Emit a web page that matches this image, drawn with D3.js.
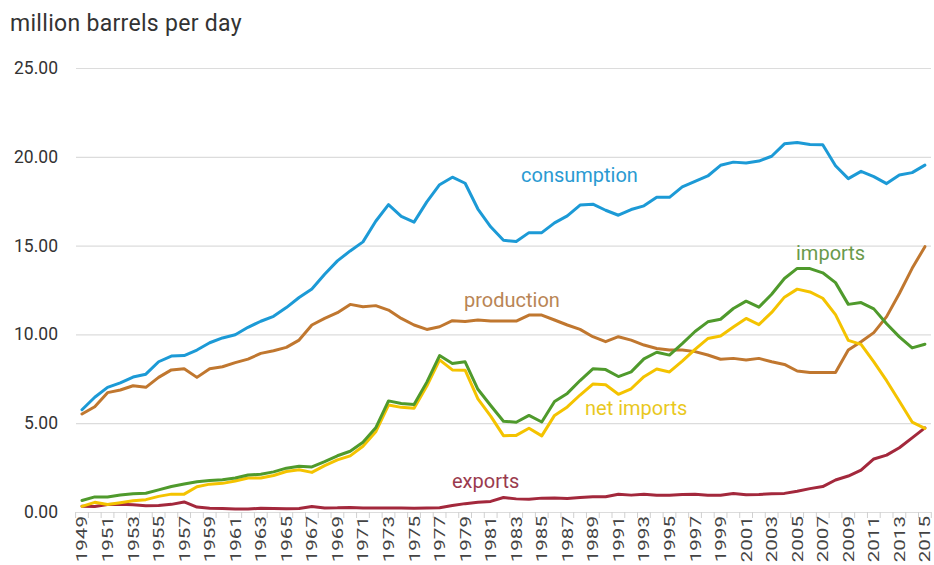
<!DOCTYPE html>
<html>
<head>
<meta charset="utf-8">
<script src="https://cdn.jsdelivr.net/npm/d3@7"></script>
<style>
  html, body { margin: 0; padding: 0; background: #fff; }
  svg { display: block; }
  text { font-family: Roboto, "Open Sans", Arial, sans-serif; }
</style>
</head>
<body>
<svg id="chart" width="934" height="565"></svg>
<script>
const years = d3.range(1949, 2016);

const consumption = [5.76,6.46,7.02,7.27,7.60,7.76,8.46,8.78,8.81,9.12,9.53,9.80,9.98,10.40,10.74,11.02,11.51,12.08,12.56,13.39,14.14,14.70,15.21,16.37,17.31,16.65,16.32,17.46,18.43,18.85,18.51,17.06,16.06,15.30,15.23,15.73,15.73,16.28,16.67,17.28,17.33,16.99,16.71,17.03,17.24,17.72,17.72,18.31,18.62,18.92,19.52,19.70,19.65,19.76,20.03,20.73,20.80,20.69,20.68,19.50,18.77,19.18,18.88,18.49,18.97,19.11,19.53];

const production = [5.52,5.93,6.72,6.87,7.11,7.02,7.58,8.00,8.07,7.58,8.07,8.18,8.41,8.61,8.93,9.08,9.27,9.68,10.53,10.90,11.22,11.69,11.56,11.62,11.37,10.90,10.53,10.28,10.43,10.77,10.72,10.81,10.75,10.75,10.75,11.09,11.09,10.81,10.53,10.28,9.87,9.59,9.87,9.68,9.40,9.21,9.12,9.12,9.03,8.84,8.60,8.65,8.56,8.65,8.46,8.31,7.94,7.86,7.86,7.86,9.12,9.59,10.10,11.00,12.30,13.72,14.94];

const imports = [0.645,0.850,0.844,0.952,1.034,1.052,1.248,1.436,1.574,1.700,1.780,1.815,1.917,2.082,2.123,2.259,2.468,2.573,2.537,2.840,3.166,3.419,3.926,4.741,6.256,6.112,6.056,7.313,8.807,8.363,8.456,6.909,5.996,5.113,5.051,5.437,5.067,6.224,6.678,7.402,8.061,8.018,7.627,7.888,8.620,8.996,8.835,9.478,10.162,10.708,10.852,11.459,11.871,11.530,12.264,13.145,13.714,13.707,13.468,12.915,11.691,11.793,11.436,10.598,9.859,9.241,9.449];

const exportsData = [0.327,0.305,0.422,0.432,0.402,0.356,0.368,0.430,0.568,0.276,0.211,0.202,0.174,0.168,0.208,0.202,0.187,0.198,0.307,0.231,0.233,0.259,0.224,0.222,0.231,0.221,0.209,0.223,0.243,0.362,0.471,0.544,0.595,0.815,0.739,0.722,0.781,0.785,0.764,0.815,0.859,0.857,1.001,0.950,1.003,0.942,0.949,0.981,1.003,0.945,0.940,1.040,0.971,0.984,1.027,1.048,1.165,1.317,1.433,1.802,2.024,2.353,2.986,3.205,3.621,4.176,4.738];

const netImports = [0.318,0.545,0.422,0.520,0.632,0.696,0.880,1.006,1.006,1.424,1.569,1.613,1.743,1.914,1.915,2.057,2.281,2.375,2.230,2.609,2.933,3.161,3.701,4.519,6.025,5.892,5.846,7.090,8.565,8.002,7.985,6.365,5.401,4.298,4.312,4.715,4.286,5.439,5.914,6.587,7.202,7.161,6.626,6.938,7.618,8.054,7.886,8.498,9.158,9.764,9.912,10.419,10.900,10.546,11.238,12.097,12.549,12.390,12.036,11.114,9.667,9.441,8.450,7.393,6.237,5.065,4.711];

const yTicks = [0, 5, 10, 15, 20, 25];
const xTickLabels = years.filter(y => (y - 1949) % 2 === 0);

const seriesList = [
  { name: "production",  values: production,  color: "#c0772f", label: "production",  lx: 464, ly: 307, lc: "#b98555" },
  { name: "exports",     values: exportsData, color: "#a3283c", label: "exports",     lx: 452, ly: 488, lc: "#9a3a4e" },
  { name: "netImports",  values: netImports,  color: "#f4c300", label: "net imports", lx: 585, ly: 415, lc: "#e9c81e" },
  { name: "imports",     values: imports,     color: "#4f9a2c", label: "imports",     lx: 796, ly: 260, lc: "#6a9a4c" },
  { name: "consumption", values: consumption, color: "#1c9ad6", label: "consumption", lx: 521, ly: 182, lc: "#2a9ad2" }
];

const svg = d3.select("#chart");
const x = d3.scaleBand().domain(years).range([75.6, 931.3]);
const y = d3.scaleLinear().domain([0, 25]).range([512, 68]);
const cx = yr => x(yr) + x.bandwidth() / 2;

// title
svg.append("text").attr("x", 10).attr("y", 31)
  .attr("font-size", 23).attr("letter-spacing", 0.3).attr("fill", "#333")
  .text("million barrels per day");

// gridlines
svg.append("g").selectAll("line").data(yTicks).join("line")
  .attr("x1", 76).attr("x2", 931)
  .attr("y1", d => y(d) + 0.5).attr("y2", d => y(d) + 0.5)
  .attr("stroke", "#dcdcdc").attr("stroke-width", 1.2);

// y labels
svg.append("g").selectAll("text").data(yTicks).join("text")
  .attr("x", 58).attr("y", d => y(d) + 6)
  .attr("text-anchor", "end").attr("font-size", 17.5).attr("fill", "#333")
  .text(d => d3.format(".2f")(d));

// x tick marks between categories
const boundaries = years.map(yr => x(yr)).concat([x(2015) + x.bandwidth()]);
svg.append("g").selectAll("line").data(boundaries).join("line")
  .attr("x1", d => d).attr("x2", d => d)
  .attr("y1", 512).attr("y2", 518)
  .attr("stroke", "#d0d0d0").attr("stroke-width", 1);

// x labels
svg.append("g").selectAll("text").data(xTickLabels).join("text")
  .attr("transform", d => `translate(${cx(d) + 5.5},${516}) rotate(-90) scale(1.42,1)`)
  .attr("text-anchor", "end").attr("font-size", 14.5).attr("fill", "#444")
  .text(d => d);

// lines
const line = d3.line().x((d, i) => cx(years[i])).y(d => y(d));
svg.append("g").selectAll("path").data(seriesList).join("path")
  .attr("d", d => line(d.values))
  .attr("fill", "none").attr("stroke", d => d.color)
  .attr("stroke-width", 3).attr("stroke-linejoin", "round").attr("stroke-linecap", "round");

// labels
svg.append("g").selectAll("text").data(seriesList).join("text")
  .attr("x", d => d.lx).attr("y", d => d.ly)
  .attr("font-size", 20).attr("fill", d => d.lc)
  .text(d => d.label);
</script>
</body>
</html>
